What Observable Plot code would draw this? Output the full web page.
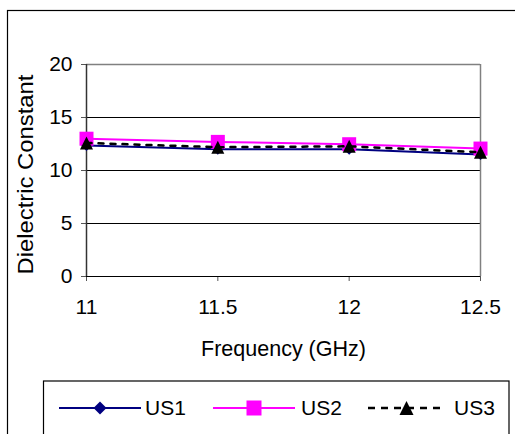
<!DOCTYPE html>
<html>
<head>
<meta charset="utf-8">
<script src="https://cdn.jsdelivr.net/npm/d3@7"></script>
<script src="https://cdn.jsdelivr.net/npm/@observablehq/plot@0.6"></script>
<style>
  html, body { margin: 0; padding: 0; background: white; overflow: hidden; }
  #chart { width: 515px; height: 434px; overflow: hidden; }
</style>
</head>
<body>
<div id="chart"></div>
<script>
const freq = [11, 11.5, 12, 12.5];
const us1 = [12.35, 12.0, 12.0, 11.5];
const us2 = [13.0, 12.7, 12.48, 12.07];
const us3 = [12.6, 12.2, 12.28, 11.72];
const seriesNames = ["US1", "US2", "US3"];
const xTicks = [11, 11.5, 12, 12.5];
const yTicks = [0, 5, 10, 15, 20];
const xLabel = "Frequency (GHz)";
const yLabel = "Dielectric Constant";

const colors = {US1: "#000080", US2: "#FF00FF", US3: "#000000"};

// custom symbols (bbox-centred, Excel-like)
const symSquare = {draw(c, size) { const s = Math.sqrt(size / Math.PI); c.rect(-s, -s, 2 * s, 2 * s); }};
const symDiamond = {draw(c, size) { const s = Math.sqrt(size / Math.PI); c.moveTo(0, -s); c.lineTo(s, 0); c.lineTo(0, s); c.lineTo(-s, 0); c.closePath(); }};
const symTriangle = {draw(c, size) { const s = Math.sqrt(size / Math.PI); c.moveTo(0, -s); c.lineTo(s, s); c.lineTo(-s, s); c.closePath(); }};

const rows = [];
[us1, us2, us3].forEach((vals, i) => {
  vals.forEach((v, j) => rows.push({series: seriesNames[i], x: freq[j], y: v}));
});
const d1 = rows.filter(d => d.series === "US1");
const d2 = rows.filter(d => d.series === "US2");
const d3s = rows.filter(d => d.series === "US3");

const chart = Plot.plot({
  width: 515,
  height: 434,
  marginLeft: 86,
  marginRight: 35,
  marginTop: 64,
  marginBottom: 158,
  style: {fontFamily: "Arial, 'Liberation Sans', sans-serif", fontSize: "21px", color: "black", background: "white", overflow: "visible"},
  x: {domain: [11, 12.5]},
  y: {domain: [0, 20]},
  marks: [
    Plot.gridY([5, 10, 15], {stroke: "black", strokeOpacity: 1}),
    Plot.ruleY([20], {stroke: "#808080", strokeWidth: 1.5}),
    Plot.ruleX([12.5], {stroke: "#808080", strokeWidth: 1.5}),
    Plot.axisX(xTicks, {tickSize: 5, tickPadding: 18, label: null, stroke: "#555", fontSize: 21, tickFormat: d => String(d)}),
    Plot.axisY(yTicks, {tickSize: 5, tickPadding: 9, label: null, stroke: "#555", fontSize: 21, tickFormat: d => String(d)}),
    Plot.ruleY([0], {stroke: "black", strokeWidth: 1.2}),
    Plot.ruleX([11], {stroke: "#333", strokeWidth: 1.5}),
    Plot.line(d1, {x: "x", y: "y", stroke: colors.US1, strokeWidth: 2}),
    Plot.dot(d1, {x: "x", y: "y", symbol: symDiamond, r: 5.5, fill: colors.US1, stroke: "none"}),
    Plot.line(d2, {x: "x", y: "y", stroke: colors.US2, strokeWidth: 2}),
    Plot.dot(d2, {x: "x", y: "y", symbol: symSquare, r: 7, fill: colors.US2, stroke: "none"}),
    Plot.line(d3s, {x: "x", y: "y", stroke: colors.US3, strokeWidth: 2.5, strokeDasharray: "5,7"}),
    Plot.dot(d3s, {x: "x", y: "y", symbol: symTriangle, r: 6.5, fill: colors.US3, stroke: "none"}),
    Plot.text([xLabel], {text: d => d, frameAnchor: "bottom", dy: 64, lineAnchor: "top", textAnchor: "middle", fontSize: 21.5}),
    Plot.text([yLabel], {text: d => d, frameAnchor: "left", rotate: -90, dx: -60, dy: 4, textAnchor: "middle", lineAnchor: "middle", fontSize: 21.5})
  ]
});

const svg = d3.select(chart);
// stretch the y-axis title like the reference
svg.selectAll("text").filter(function() { return this.textContent === yLabel; })
  .attr("textLength", 200).attr("lengthAdjust", "spacingAndGlyphs");

// outer chart-area frame
svg.insert("rect", ":first-child")
  .attr("x", 7.5).attr("y", 10.5).attr("width", 600).attr("height", 600)
  .attr("fill", "none").attr("stroke", "black").attr("stroke-width", 1.2);

// legend
const lg = svg.append("g").attr("font-family", "Arial, 'Liberation Sans', sans-serif").attr("font-size", 21).attr("text-anchor", "start");
lg.append("rect").attr("x", 43.5).attr("y", 381).attr("width", 465.5).attr("height", 100)
  .attr("fill", "white").attr("stroke", "black").attr("stroke-width", 1.2);
const ly = 408;
const items = [
  {name: seriesNames[0], x0: 59, x1: 141, tx: 145, sym: symDiamond, size: Math.PI * 6.5 * 6.5, dash: null, w: 2},
  {name: seriesNames[1], x0: 213, x1: 295, tx: 301, sym: symSquare, size: Math.PI * 7.5 * 7.5, dash: null, w: 2},
  {name: seriesNames[2], x0: 368, x1: 445, tx: 454, sym: symTriangle, size: Math.PI * 7 * 7, dash: "7,6", w: 2.5}
];
items.forEach(it => {
  const col = colors[it.name];
  const ln = lg.append("line").attr("x1", it.x0).attr("x2", it.x1).attr("y1", ly).attr("y2", ly)
    .attr("stroke", col).attr("stroke-width", it.w);
  if (it.dash) ln.attr("stroke-dasharray", it.dash);
  lg.append("path").attr("d", d3.symbol(it.sym, it.size)())
    .attr("transform", `translate(${(it.x0 + it.x1) / 2},${ly})`).attr("fill", col);
  lg.append("text").attr("x", it.tx).attr("y", ly).attr("dy", "0.35em").attr("fill", "black").attr("text-anchor", "start").text(it.name);
});

document.getElementById("chart").appendChild(chart);
</script>
</body>
</html>
